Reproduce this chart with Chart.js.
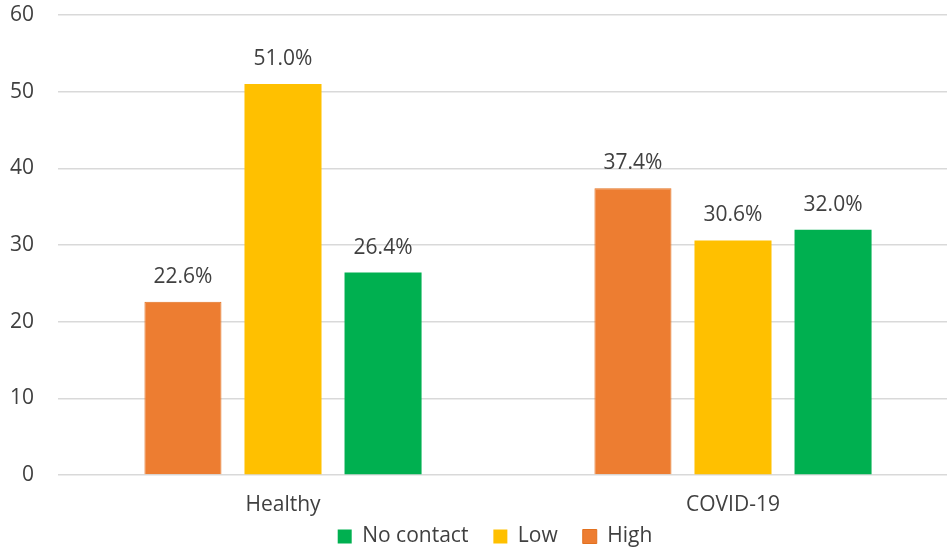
<!DOCTYPE html>
<html>
<head>
<meta charset="utf-8">
<script src="https://cdn.jsdelivr.net/npm/chart.js@4.4.1/dist/chart.umd.min.js"></script>
<style>
  html, body { margin: 0; padding: 0; background: #ffffff; overflow: hidden; }
  #wrap { position: fixed; left: 0; top: 0; width: 947px; height: 550px; overflow: hidden; }
  #c { display: block; position: absolute; left: 0; top: 0; }
</style>
</head>
<body>
<div id="wrap"><canvas id="c" width="980" height="557" style="width:980px;height:557px"></canvas></div>
<script>
const categories = ["Healthy", "COVID-19"];
const seriesNames = ["High", "Low", "No contact"];
const highValues = [22.6, 37.4];
const lowValues = [51.0, 30.6];
const noContactValues = [26.4, 32.0];
const yTicks = [0, 10, 20, 30, 40, 50, 60];

const textColor = "#404040";
const fontFamily = "'Open Sans', 'Liberation Sans', sans-serif";

const dataLabelPlugin = {
  id: "dataLabels",
  afterDatasetsDraw(chart) {
    const ctx = chart.ctx;
    ctx.save();
    ctx.font = "21px " + fontFamily;
    ctx.fillStyle = textColor;
    ctx.textAlign = "center";
    ctx.textBaseline = "alphabetic";
    chart.data.datasets.forEach((ds, i) => {
      const meta = chart.getDatasetMeta(i);
      meta.data.forEach((el, j) => {
        ctx.fillText(ds.data[j].toFixed(1) + "%", el.x, el.y - 19);
      });
    });
    ctx.restore();
  }
};

new Chart(document.getElementById("c"), {
  type: "bar",
  data: {
    labels: categories,
    datasets: [
      { label: seriesNames[0], data: highValues, backgroundColor: "#ED7D31", borderColor: "#E2711F", borderWidth: 1 },
      { label: seriesNames[1], data: lowValues, backgroundColor: "#FFC000" },
      { label: seriesNames[2], data: noContactValues, backgroundColor: "#00B050" }
    ]
  },
  options: {
    responsive: false,
    animation: false,
    devicePixelRatio: 1,
    layout: { padding: { top: 15, left: 10, right: 0, bottom: 0 } },
    datasets: { bar: { categoryPercentage: 0.667, barPercentage: 0.77 } },
    scales: {
      x: {
        grid: { display: false, drawTicks: false },
        border: { display: false },
        ticks: { color: textColor, font: { family: fontFamily, size: 21 }, padding: 17 },
        afterFit(scale) {
          scale.height = 26; scale.paddingLeft = 0; scale.paddingRight = 0;
          scale._computeLabelArea = () => undefined;
        }
      },
      y: {
        min: 0,
        max: 60,
        afterBuildTicks(scale) { scale.ticks = yTicks.map(v => ({ value: v })); },
        grid: { color: "#d9d9d9", lineWidth: 1.5, drawTicks: false },
        border: { display: false },
        ticks: { color: textColor, font: { family: fontFamily, size: 21 }, padding: 24 },
        afterFit(scale) { scale.width = 48; scale.paddingTop = 12; scale.paddingBottom = 12; }
      },
      yRight: {
        type: "linear",
        position: "right",
        display: true,
        grid: { display: false, drawTicks: false },
        border: { display: false },
        ticks: { display: false },
        afterFit(scale) { scale.width = 22; scale.paddingTop = 0; scale.paddingBottom = 0; }
      }
    },
    plugins: {
      legend: {
        position: "bottom",
        reverse: true,
        labels: {
          color: textColor,
          font: { family: fontFamily, size: 21 },
          boxWidth: 14,
          boxHeight: 14,
          padding: 25
        }
      },
      tooltip: { enabled: false }
    }
  },
  plugins: [dataLabelPlugin]
});
</script>
</body>
</html>
